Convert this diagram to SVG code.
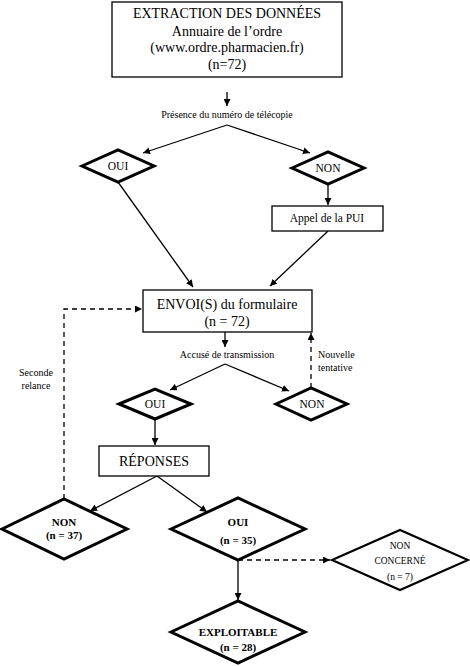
<svg xmlns="http://www.w3.org/2000/svg" width="470" height="666" viewBox="0 0 470 666">
<defs>
<marker id="ah" viewBox="0 0 10 10" refX="10" refY="5" markerWidth="7" markerHeight="7" markerUnits="userSpaceOnUse" orient="auto">
<path d="M0,0 L10,5 L0,10 z" fill="#000"/>
</marker>
</defs>
<style>
text{font-family:"Liberation Serif","Times New Roman",serif;fill:#000;text-anchor:middle}
.box{fill:#fff;stroke:#000;stroke-width:1.3}
.dia{fill:#fff;stroke:#000;stroke-width:3;stroke-linejoin:miter}
.dia2{fill:#fff;stroke:#000;stroke-width:2.2}
.c{fill:none;stroke:#000;stroke-width:1.3;marker-end:url(#ah)}
.d{fill:none;stroke:#000;stroke-width:1.3;stroke-dasharray:5,4}
.da{fill:none;stroke:#000;stroke-width:1.3;stroke-dasharray:5,4;marker-end:url(#ah)}
.l{font-size:10px}
.t14{font-size:14px}
.t11{font-size:11.5px}
.b{font-size:11px;font-weight:bold}
.nc{font-size:9.5px}
</style>
<g id="connectors">
<line class="c" x1="227" y1="92" x2="227" y2="106"/>
<line class="c" x1="227" y1="125" x2="143" y2="153"/>
<line class="c" x1="227" y1="125" x2="310" y2="153"/>
<line class="c" x1="328" y1="184" x2="328" y2="205"/>
<line class="c" x1="118" y1="182" x2="193" y2="287"/>
<line class="c" x1="328" y1="231" x2="270" y2="286"/>
<polyline class="da" points="64,499 64,309 142,309"/>
<line class="c" x1="225" y1="332" x2="225" y2="347"/>
<line class="c" x1="225" y1="364" x2="170" y2="390"/>
<line class="c" x1="225" y1="364" x2="289" y2="391"/>
<line class="da" x1="311" y1="388" x2="311" y2="333"/>
<line class="c" x1="155" y1="420" x2="155" y2="445"/>
<line class="c" x1="157" y1="476" x2="90" y2="511"/>
<line class="c" x1="157" y1="476" x2="207" y2="512"/>
<line class="da" x1="238" y1="560" x2="330" y2="560"/>
<line class="c" x1="238" y1="560" x2="238" y2="600"/>
</g>
<g id="extraction">
<rect class="box" x="112" y="2" width="230" height="75"/>
<text class="t14" x="227" y="18">EXTRACTION DES DONNÉES</text>
<text class="t14" x="227" y="36">Annuaire de l’ordre</text>
<text class="t14" x="227" y="52">(www.ordre.pharmacien.fr)</text>
<text class="t14" x="227" y="69">(n=72)</text>
</g>
<g id="label-presence"><text class="l" x="227" y="118">Présence du numéro de télécopie</text></g>
<g id="oui1">
<polygon class="dia" points="82,166 118,150 154,166 118,182"/>
<text class="t11" x="118" y="170">OUI</text>
</g>
<g id="non1">
<polygon class="dia" points="292,168 328,152 364,168 328,184"/>
<text class="t11" x="328" y="172">NON</text>
</g>
<g id="appel">
<rect class="box" x="272" y="206" width="111" height="25"/>
<text class="t11" x="327" y="222">Appel de la PUI</text>
</g>
<g id="envoi">
<rect class="box" x="143" y="290" width="169" height="42"/>
<text class="t14" x="227" y="309">ENVOI(S) du formulaire</text>
<text class="t14" x="227" y="326">(n = 72)</text>
</g>
<g id="label-accuse"><text class="l" x="227" y="358">Accusé de transmission</text></g>
<g id="label-nouvelle">
<text class="l" x="318" y="358" style="text-anchor:start">Nouvelle</text>
<text class="l" x="318" y="371" style="text-anchor:start">tentative</text>
</g>
<g id="label-seconde">
<text class="l" x="36" y="376">Seconde</text>
<text class="l" x="36" y="389">relance</text>
</g>
<g id="oui2">
<polygon class="dia" points="119,404 155,389 191,404 155,419"/>
<text class="t11" x="155" y="408">OUI</text>
</g>
<g id="non2">
<polygon class="dia" points="276,404 311,388 347,404 311,420"/>
<text class="t11" x="312" y="408">NON</text>
</g>
<g id="reponses">
<rect class="box" x="99" y="446" width="110" height="30"/>
<text class="t14" x="154" y="466">RÉPONSES</text>
</g>
<g id="non3">
<polygon class="dia" points="2,529 64,499 127,529 64,559"/>
<text class="b" x="64" y="526">NON</text>
<text class="b" x="64" y="539">(n = 37)</text>
</g>
<g id="oui3">
<polygon class="dia" points="171,529 238,498 305,529 238,560"/>
<text class="b" x="238" y="526">OUI</text>
<text class="b" x="238" y="544">(n = 35)</text>
</g>
<g id="nonconcerne">
<polygon class="dia2" points="332,560 400,530 468,560 400,590"/>
<text class="nc" x="400" y="549">NON</text>
<text class="nc" x="400" y="564">CONCERNÉ</text>
<text class="nc" x="400" y="580">(n = 7)</text>
</g>
<g id="exploitable">
<polygon class="dia" points="171,632 238,601 305,632 238,663"/>
<text class="b" x="238" y="636">EXPLOITABLE</text>
<text class="b" x="238" y="651">(n = 28)</text>
</g>
</svg>
